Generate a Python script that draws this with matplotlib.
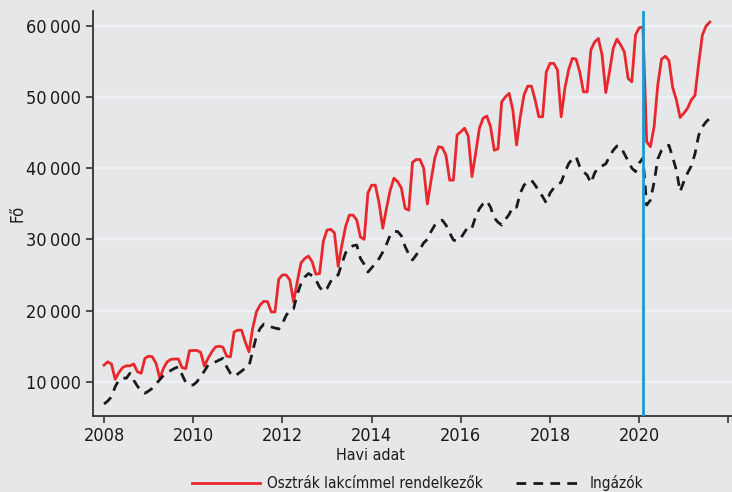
import matplotlib
matplotlib.use("Agg")
import matplotlib.pyplot as plt
import numpy as np
from matplotlib.ticker import FuncFormatter

plt.rcParams['font.family'] = ['Liberation Sans Narrow', 'DejaVu Sans']
plt.rcParams['font.stretch'] = 'condensed'

START_YEAR = 2008
BREAK_YEAR = 2020 + 1 / 12   # Feb 2020

# monthly values, Jan 2008 .. Aug 2021
osztrak = [
    12350, 12800, 12500, 10350, 11300, 12000, 12250, 12250, 12500, 11400, 11200, 13300,
    13600, 13500, 12600, 10500, 11900, 12800, 13150, 13200, 13200, 12000, 11850, 14370,
    14400, 14400, 14140, 12200, 13300, 14200, 14900, 15000, 14850, 13600, 13500, 17000,
    17250, 17250, 15600, 14200, 17500, 19800, 20800, 21300, 21250, 19800, 19800, 24400,
    25000, 25000, 24300, 21200, 24050, 26700, 27300, 27650, 26860, 25100, 25200, 29700,
    31300, 31400, 30900, 26200, 29200, 31800, 33400, 33400, 32700, 30300, 30000, 36500,
    37600, 37600, 35100, 31550, 34350, 36900, 38570, 38100, 37200, 34350, 34100, 40800,
    41200, 41200, 40000, 34950, 38300, 41400, 43000, 42900, 41800, 38300, 38300, 44650,
    45100, 45600, 44500, 38800, 42100, 45600, 47000, 47300, 45800, 42500, 42700, 49300,
    50000, 50500, 48150, 43240, 47200, 50260, 51500, 51500, 49560, 47200, 47200, 53500,
    54700, 54700, 53800, 47200, 51200, 53800, 55400, 55300, 53500, 50700, 50700, 56600,
    57700, 58200, 55900, 50600, 53500, 56800, 58100, 57300, 56300, 52600, 52100, 58700,
    59700, 59800, 43700, 43000, 45800, 51700, 55300, 55700, 55100, 51300, 49560, 47100,
    47700, 48400, 49560, 50200, 54700, 58700, 59950, 60500,
]

ingazok = [
    6880, 7300, 7900, 9300, 10250, 10550, 10500, 11200, 10200, 9400, 8650, 8400,
    8700, 9100, 9700, 10300, 10900, 11300, 11600, 11900, 12100, 11000, 9900, 9550,
    9550, 10000, 10800, 11500, 12350, 12550, 12800, 13050, 13300, 12100, 11200, 10750,
    11100, 11500, 11900, 12200, 14300, 16400, 17500, 18100, 17900, 17700, 17550, 17400,
    18200, 19300, 20100, 20250, 22300, 23800, 24700, 25200, 24900, 24300, 23300, 22650,
    23100, 24100, 24800, 25000, 26600, 28100, 28800, 29100, 29200, 27300, 26500, 25400,
    26000, 26600, 27300, 28200, 29300, 30600, 31100, 31100, 30500, 29000, 27900, 27100,
    27800, 28600, 29500, 30000, 31100, 32000, 32500, 32700, 32000, 30900, 29900, 29750,
    30200, 31000, 31800, 31600, 33200, 34300, 35000, 35400, 34500, 33000, 32400, 32000,
    32800, 33500, 34600, 34500, 36500, 37600, 38100, 38300, 37600, 36800, 36000, 35100,
    36500, 37200, 37700, 38000, 39400, 40600, 41300, 41600, 40200, 39500, 39000, 37900,
    39300, 40100, 40300, 40600, 41600, 42500, 43100, 43000, 42000, 41000, 40000, 39500,
    40700, 41400, 34800, 35500, 38000, 41300, 42500, 43000, 43200, 41500, 39700, 36700,
    38100, 39300, 40300, 42000, 44600, 45800, 46500, 47000,
]

x_ticks = [2008, 2010, 2012, 2014, 2016, 2018, 2020, 2022]
x_labels = ['2008', '2010', '2012', '2014', '2016', '2018', '2020', '']
y_ticks = [10000, 20000, 30000, 40000, 50000, 60000]

BG = '#e6e7e9'
GRID = '#eef2f6'
RED = '#e8282c'
BLUE = '#1a9ad6'

t = START_YEAR + np.arange(len(osztrak)) / 12

fig = plt.figure(figsize=(7.32, 4.92), dpi=100, facecolor=BG)
ax = fig.add_axes([93 / 732, 1 - 416 / 492, 1 - 93 / 732, (416 - 11) / 492])
ax.set_facecolor(BG)

for yv in y_ticks:
    ax.axhline(yv, color=GRID, lw=1.6, zorder=0)

ax.plot(t, osztrak, color=RED, lw=2.0, label='Osztrák lakcímmel rendelkezők', zorder=3)
ax.plot(t, ingazok, color='#1a1a1a', lw=2.0, ls=(0, (3.5, 2.6)), label='Ingázók', zorder=3)
ax.axvline(BREAK_YEAR, color=BLUE, lw=2.0, zorder=4)

ax.set_xlim(2007.753, 2022.08)
ax.set_ylim(5200, 62050)
ax.set_xticks(x_ticks)
ax.set_xticklabels(x_labels)
ax.set_yticks(y_ticks)
ax.yaxis.set_major_formatter(FuncFormatter(lambda v, p: f'{int(v):,}'.replace(',', '\u2009')))

for s in ['top', 'right']:
    ax.spines[s].set_visible(False)
for s in ['left', 'bottom']:
    ax.spines[s].set_color('#333333')
    ax.spines[s].set_linewidth(1.3)
ax.tick_params(axis='both', colors='#333333', labelsize=13, length=5, width=1.2,
               labelcolor='#1a1a1a')
ax.tick_params(axis='y', pad=4)
ax.tick_params(axis='x', pad=3)

ax.set_ylabel('Fő', fontsize=12, color='#1a1a1a')
ax.yaxis.set_label_coords(-0.104, 0.5)
fig.text(370 / 732, 1 - 456 / 492, 'Havi adat', ha='center', va='center',
         fontsize=11.5, color='#1a1a1a')

leg = fig.legend(loc='center', bbox_to_anchor=(418 / 732, 1 - 483 / 492), ncol=2,
                 frameon=False, fontsize=11, handlelength=4.4, columnspacing=2.2,
                 handletextpad=0.45)
for txt in leg.get_texts():
    txt.set_color('#1a1a1a')

fig.savefig('out.png', dpi=100, facecolor=BG)
